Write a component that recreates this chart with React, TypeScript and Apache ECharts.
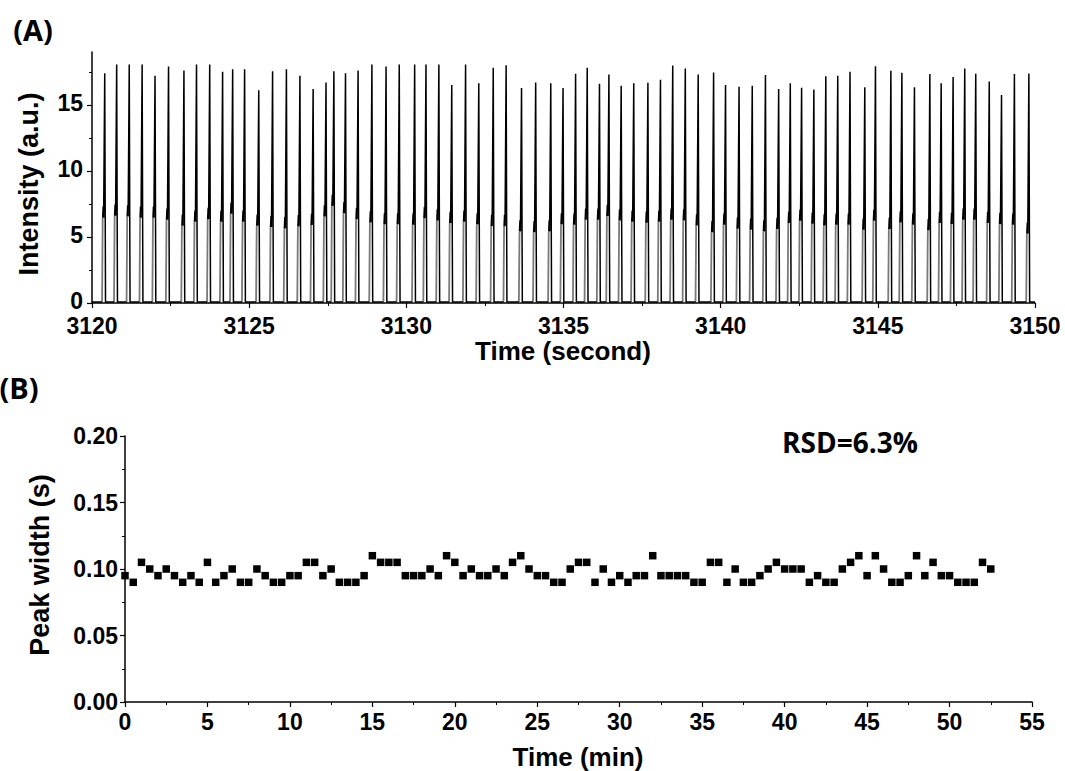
import React, { useEffect, useRef } from "react";
import * as echarts from "echarts";

// Panel A: peak times (s), tall peak heights and short peak heights (a.u.)
const peakTimes = [
  3120.41, 3120.79, 3121.19, 3121.6, 3122.01, 3122.44, 3122.93, 3123.33, 3123.75, 3124.16, 3124.48, 3124.86,
  3125.31, 3125.75, 3126.19, 3126.62, 3127.04, 3127.45, 3127.7, 3128.07, 3128.47, 3128.91, 3129.36, 3129.78,
  3130.27, 3130.63, 3131.04, 3131.45, 3131.89, 3132.31, 3132.77, 3133.18, 3133.67, 3134.12, 3134.6, 3134.99,
  3135.39, 3135.76, 3136.15, 3136.45, 3136.84, 3137.24, 3137.69, 3138.09, 3138.48, 3138.88, 3139.29, 3139.78,
  3140.16, 3140.59, 3141.01, 3141.43, 3141.85, 3142.22, 3142.58, 3142.97, 3143.35, 3143.73, 3144.12, 3144.59,
  3144.93, 3145.42, 3145.77, 3146.17, 3146.66, 3147.02, 3147.4, 3147.77, 3148.12, 3148.55, 3148.94, 3149.35,
  3149.81,
];
const tallHeights = [
  17.4, 18.05, 18.05, 18.05, 17.2, 17.9, 17.6, 18.05, 18.05, 17.5, 17.7, 17.7,
  16.1, 17.55, 17.7, 17.2, 16.2, 16.7, 17.55, 17.4, 17.6, 18.05, 17.9, 18.05,
  18.05, 18.05, 18.05, 16.5, 18.05, 16.64, 17.8, 18.0, 16.27, 16.7, 16.64, 16.27,
  17.35, 17.8, 16.6, 17.3, 16.45, 16.64, 16.67, 16.9, 17.98, 17.75, 17.3, 17.45,
  16.5, 16.37, 16.45, 17.25, 16.2, 16.64, 16.3, 16.17, 17.17, 17.2, 17.5, 16.33,
  17.93, 17.58, 17.43, 16.33, 17.33, 16.64, 17.1, 17.75, 17.35, 16.77, 15.74, 17.33,
  17.38,
];
const shortHeights = [
  7.3, 7.45, 7.4, 7.3, 7.3, 7.15, 6.7, 7.0, 7.2, 7.0, 7.6, 7.0,
  6.7, 6.6, 6.5, 6.65, 6.75, 7.4, 8.2, 7.65, 7.2, 6.95, 6.8, 6.8,
  6.77, 7.27, 7.1, 6.9, 7.0, 6.8, 6.67, 6.67, 6.27, 6.2, 6.27, 6.8,
  6.77, 7.15, 7.15, 7.43, 7.1, 7.0, 6.93, 7.0, 7.15, 7.1, 6.72, 6.2,
  6.77, 6.47, 6.4, 6.27, 6.45, 6.9, 7.07, 6.85, 6.72, 6.77, 6.77, 6.4,
  7.07, 6.45, 6.95, 6.77, 6.35, 6.9, 6.82, 7.15, 7.15, 6.9, 6.82, 6.77,
  6.1,
];

// Panel B: time (min) and peak width (s)
const widthTimes = [
  0, 0.5, 1, 1.5, 2, 2.5, 3, 3.5, 4, 4.5, 5, 5.5, 6, 6.5, 7, 7.5, 8, 8.5, 9, 9.5,
  10, 10.5, 11, 11.5, 12, 12.5, 13, 13.5, 14, 14.5, 15, 15.5, 16, 16.5, 17, 17.5, 18, 18.5, 19, 19.5,
  20, 20.5, 21, 21.5, 22, 22.5, 23, 23.5, 24, 24.5, 25, 25.5, 26, 26.5, 27, 27.5, 28, 28.5, 29, 29.5,
  30, 30.5, 31, 31.5, 32, 32.5, 33, 33.5, 34, 34.5, 35, 35.5, 36, 36.5, 37, 37.5, 38, 38.5, 39, 39.5,
  40, 40.5, 41, 41.5, 42, 42.5, 43, 43.5, 44, 44.5, 45, 45.5, 46, 46.5, 47, 47.5, 48, 48.5, 49, 49.5,
  50, 50.5, 51, 51.5, 52, 52.5,
];
const peakWidths = [
  0.095, 0.09, 0.105, 0.1, 0.095, 0.1, 0.095, 0.09, 0.095, 0.09, 0.105, 0.09, 0.095, 0.1, 0.09, 0.09, 0.1, 0.095, 0.09, 0.09,
  0.095, 0.095, 0.105, 0.105, 0.095, 0.1, 0.09, 0.09, 0.09, 0.095, 0.11, 0.105, 0.105, 0.105, 0.095, 0.095, 0.095, 0.1, 0.095, 0.11,
  0.105, 0.095, 0.1, 0.095, 0.095, 0.1, 0.095, 0.105, 0.11, 0.1, 0.095, 0.095, 0.09, 0.09, 0.1, 0.105, 0.105, 0.09, 0.1, 0.09,
  0.095, 0.09, 0.095, 0.095, 0.11, 0.095, 0.095, 0.095, 0.095, 0.09, 0.09, 0.105, 0.105, 0.09, 0.1, 0.09, 0.09, 0.095, 0.1, 0.105,
  0.1, 0.1, 0.1, 0.09, 0.095, 0.09, 0.09, 0.1, 0.105, 0.11, 0.095, 0.11, 0.1, 0.09, 0.09, 0.095, 0.11, 0.095, 0.105, 0.095,
  0.095, 0.09, 0.09, 0.09, 0.105, 0.1,
];

const aYLabels = [0, 5, 10, 15];

const LABEL_FONT = "'Liberation Sans', Arial, sans-serif";
const TITLE_FONT = "'Open Sans', 'Noto Sans', sans-serif";

function buildTraces() {
  const BASE = 0.08;
  const gray: any[] = [];
  const black: any[] = [[3120, BASE]];
  peakTimes.forEach((t, i) => {
    const T = tallHeights[i];
    const S = shortHeights[i];
    gray.push([t - 0.09, BASE], [t - 0.07, S - 0.85], [t - 0.069, "-"]);
    black.push(
      [t - 0.09, BASE],
      [t - 0.089, "-"],
      [t - 0.07, S - 0.85],
      [t - 0.055, S],
      [t - 0.04, S - 0.85],
      [t - 0.005, T],
      [t + 0.02, BASE]
    );
  });
  black.push([3150, BASE]);
  return { gray, black };
}

export default function App() {
  const ref = useRef<HTMLDivElement>(null);
  useEffect(() => {
    document.body.style.margin = "0";
    if (!ref.current) return;
    const chart = echarts.init(ref.current, null, { renderer: "svg" });
    const { gray, black } = buildTraces();
    const axisCommon = {
      axisLine: { show: true, onZero: false, lineStyle: { color: "#000", width: 1.5 } },
      axisTick: { show: true, inside: false, length: 5, lineStyle: { color: "#000", width: 1.2 } },
      minorTick: { show: true, splitNumber: 2, length: 3, lineStyle: { color: "#000", width: 1 } },
      splitLine: { show: false },
    };
    const labelCommon = {
      color: "#000",
      fontWeight: "bold" as const,
      fontFamily: LABEL_FONT,
      fontSize: 23,
      lineHeight: 18,
    };
    chart.setOption({
      animation: false,
      backgroundColor: "#fff",
      grid: [
        { left: 92, top: 52, right: 30, bottom: 468 },
        { left: 125, top: 436, right: 33, bottom: 69 },
      ],
      xAxis: [
        {
          gridIndex: 0,
          type: "value",
          min: 3120,
          max: 3150,
          interval: 5,
          ...axisCommon,
          axisLabel: { ...labelCommon, margin: 13.5, formatter: (v: number) => String(v) },
        },
        {
          gridIndex: 1,
          type: "value",
          min: 0,
          max: 55,
          interval: 5,
          ...axisCommon,
          axisLabel: { ...labelCommon, margin: 10.5, formatter: (v: number) => String(v) },
        },
      ],
      yAxis: [
        {
          gridIndex: 0,
          type: "value",
          min: 0,
          max: 19,
          interval: 5,
          ...axisCommon,
          axisTick: { ...axisCommon.axisTick, customValues: aYLabels },
          axisLabel: {
            ...labelCommon,
            lineHeight: 4,
            verticalAlign: "bottom",
            margin: 9,
            customValues: aYLabels,
            formatter: (v: number) => (v === 19 ? "" : String(v)),
          },
        },
        {
          gridIndex: 1,
          type: "value",
          min: 0,
          max: 0.2,
          interval: 0.05,
          ...axisCommon,
          axisLabel: {
            ...labelCommon,
            margin: 7,
            formatter: (v: number) => v.toFixed(2),
          },
        },
      ],
      series: [
        {
          type: "line",
          xAxisIndex: 0,
          yAxisIndex: 0,
          data: gray,
          showSymbol: false,
          symbol: "none",
          connectNulls: false,
          lineStyle: { color: "#7a7a7a", width: 1.8 },
          z: 2,
        },
        {
          type: "line",
          xAxisIndex: 0,
          yAxisIndex: 0,
          data: black,
          showSymbol: false,
          symbol: "none",
          connectNulls: false,
          lineStyle: { color: "#000", width: 1.5 },
          z: 3,
        },
        {
          type: "scatter",
          xAxisIndex: 1,
          yAxisIndex: 1,
          data: widthTimes.map((t, i) => [t, peakWidths[i]]),
          symbol: "rect",
          symbolSize: 7.5,
          itemStyle: { color: "#000", opacity: 1 },
        },
      ],
      graphic: [
        {
          type: "text",
          x: 33,
          y: 29,
          style: { text: "(A)", fontSize: 29, fontWeight: "bold", fontFamily: TITLE_FONT, fill: "#000", align: "center", verticalAlign: "middle" },
        },
        {
          type: "text",
          x: 19,
          y: 387,
          style: { text: "(B)", fontSize: 29, fontWeight: "bold", fontFamily: TITLE_FONT, fill: "#000", align: "center", verticalAlign: "middle" },
        },
        {
          type: "text",
          x: 850,
          y: 442,
          style: { text: "RSD=6.3%", fontSize: 28, fontWeight: "bold", fontFamily: TITLE_FONT, fill: "#000", align: "center", verticalAlign: "middle" },
        },
        {
          type: "text",
          x: 563,
          y: 351,
          style: { text: "Time (second)", fontSize: 26, fontWeight: "bold", fontFamily: LABEL_FONT, fill: "#000", align: "center", verticalAlign: "middle" },
        },
        {
          type: "text",
          x: 578,
          y: 757,
          style: { text: "Time (min)", fontSize: 26, fontWeight: "bold", fontFamily: LABEL_FONT, fill: "#000", align: "center", verticalAlign: "middle" },
        },
        {
          type: "text",
          x: 29,
          y: 184,
          rotation: Math.PI / 2,
          style: { text: "Intensity (a.u.)", fontSize: 27, fontWeight: "bold", fontFamily: LABEL_FONT, fill: "#000", align: "center", verticalAlign: "middle" },
        },
        {
          type: "text",
          x: 40,
          y: 565,
          rotation: Math.PI / 2,
          style: { text: "Peak width (s)", fontSize: 27, fontWeight: "bold", fontFamily: LABEL_FONT, fill: "#000", align: "center", verticalAlign: "middle" },
        },
      ],
    });
    return () => chart.dispose();
  }, []);
  return <div ref={ref} style={{ width: 1065, height: 771 }} />;
}
